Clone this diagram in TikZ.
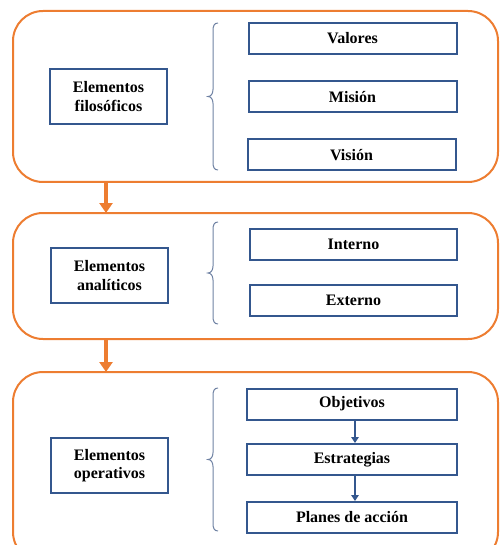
\documentclass[tikz,border=0pt]{standalone}
\usepackage{fontspec}
\setmainfont{Liberation Serif}
\usetikzlibrary{arrows.meta,calc}
\definecolor{frameorange}{HTML}{ED7D31}
\definecolor{boxblue}{HTML}{34578E}
\definecolor{braceblue}{HTML}{6F82A3}
\tikzset{
  container/.style={draw=frameorange, line width=2pt, rounded corners=30pt,
    minimum width=485pt, inner sep=0pt},
  itembox/.style={draw=boxblue, line width=2pt, minimum width=208pt,
    minimum height=31pt, inner sep=0pt,
    font=\fontsize{16}{18.5}\selectfont\bfseries},
  groupbox/.style={draw=boxblue, line width=2pt, minimum width=117pt,
    minimum height=55pt, inner sep=0pt, align=center,
    font=\fontsize{16}{18.5}\selectfont\bfseries},
  stagearrow/.style={draw=frameorange, line width=4pt,
    -{Triangle[length=10pt,width=13pt]}, shorten >=-1pt},
  steparrow/.style={draw=boxblue, line width=1.3pt,
    -{Triangle[length=6pt,width=7.5pt]}},
  bracestyle/.style={draw=braceblue, line width=1pt}
}
\newcommand{\leftbrace}[3]{% x of ends, y top, y bottom
  \pgfmathsetmacro{\ymid}{(#2+#3)/2}
  \draw[bracestyle] (#1,#2) .. controls (#1-4,#2) and (#1-5,#2+3) .. (#1-5,#2+8)
    -- (#1-5,\ymid-7) .. controls (#1-5,\ymid-3) and (#1-7,\ymid) .. (#1-10,\ymid)
    .. controls (#1-7,\ymid) and (#1-5,\ymid+3) .. (#1-5,\ymid+7)
    -- (#1-5,#3-8) .. controls (#1-5,#3-3) and (#1-4,#3) .. (#1,#3);
}
\begin{document}
\begin{tikzpicture}[x=1pt,y=-1pt]
\useasboundingbox (0,0) rectangle (499,545);
\clip (0,0) rectangle (499,545);

% stage frames
\node[container, minimum height=171pt] (c1) at (255.5,96.5) {};
\node[container, minimum height=126pt] (c2) at (255.5,276) {};
\node[container, minimum height=190pt] (c3) at (255.5,467) {};
\coordinate (ax) at (106,0);

% stage 1
\node[groupbox] (fil) at (108.5,96.5) {Elementos\\filosóficos};
\node[itembox] (val) at (352.5,38.5) {Valores};
\node[itembox] (mis) at (352.5,97) {Misión};
\node[itembox] (vis) at (351.5,155) {Visión};
\leftbrace{218}{23}{170}

% stage 2
\node[groupbox] (ana) at (109.5,275.5) {Elementos\\analíticos};
\node[itembox, minimum width=207pt] (int) at (353.5,244.5) {Interno};
\node[itembox, minimum width=207pt] (ext) at (353.5,300.5) {Externo};
\leftbrace{218}{222}{324}

% stage 3
\node[groupbox] (ope) at (109.5,465.5) {Elementos\\operativos};
\node[itembox, minimum width=210pt] (obj) at (352,404) {Objetivos};
\node[itembox, minimum width=210pt] (est) at (352,459.5) {Estrategias};
\node[itembox, minimum width=210pt] (pla) at (352,517.5) {Planes de acción};
\leftbrace{218}{388}{531}

% connectors
\draw[stagearrow] (c1.south -| ax) -- (c2.north -| ax);
\draw[stagearrow] (c2.south -| ax) -- (c3.north -| ax);
\draw[steparrow] ($(obj.south)+(3,0)$) -- ($(est.north)+(3,0)$);
\draw[steparrow] ($(est.south)+(3,0)$) -- ($(pla.north)+(3,0)$);
\end{tikzpicture}
\end{document}
